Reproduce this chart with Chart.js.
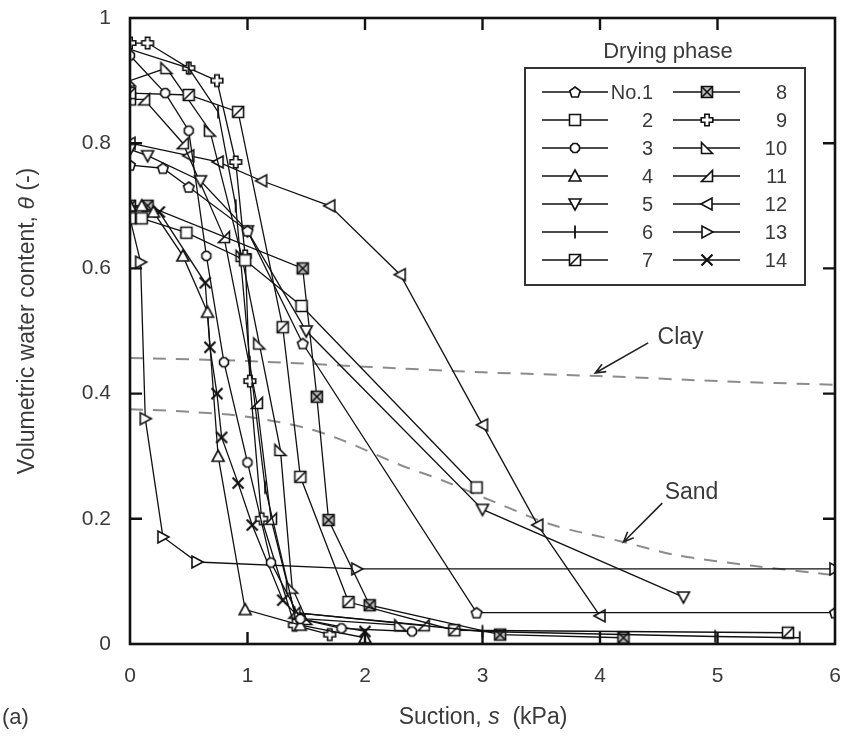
<!DOCTYPE html>
<html>
<head>
<meta charset="utf-8">
<script src="https://cdn.jsdelivr.net/npm/chart.js@4.4.0/dist/chart.umd.min.js"></script>
<style>
  html, body { margin: 0; padding: 0; background: #fff; }
  canvas { display: block; }
</style>
</head>
<body>
<canvas id="swcc" width="843" height="738"></canvas>
<script>
// Drying-phase soil water characteristic curves, [suction kPa, theta]
const no1  = [[0,0.765],[0.28,0.76],[0.5,0.73],[1.0,0.66],[1.47,0.48],[2.95,0.05],[6,0.05]];
const no2  = [[0,0.68],[0.1,0.68],[0.48,0.657],[0.98,0.613],[1.46,0.54],[2.95,0.25]];
const no3  = [[0,0.94],[0.3,0.88],[0.5,0.82],[0.65,0.62],[0.8,0.45],[1.0,0.29],[1.2,0.13],[1.45,0.04],[1.8,0.025],[2.4,0.02]];
const no4  = [[0,0.70],[0.1,0.70],[0.2,0.69],[0.45,0.62],[0.66,0.53],[0.75,0.30],[0.98,0.055],[1.45,0.03],[2.0,0.01]];
const no5  = [[0,0.79],[0.15,0.78],[0.6,0.74],[1.0,0.66],[1.5,0.50],[3.0,0.215],[4.71,0.075]];
const no6  = [[0,0.95],[0.5,0.92],[0.75,0.85],[0.9,0.70],[1.02,0.45],[1.15,0.25],[1.4,0.05],[3.0,0.02],[4.98,0.012],[5.7,0.01]];
const no7  = [[0,0.88],[0.5,0.877],[0.92,0.85],[1.3,0.506],[1.45,0.267],[1.86,0.067],[2.76,0.022],[5.6,0.018]];
const no8  = [[0,0.70],[0.15,0.70],[1.47,0.60],[1.59,0.395],[1.69,0.198],[2.04,0.062],[3.15,0.015],[4.2,0.01]];
const no9  = [[0,0.96],[0.15,0.96],[0.5,0.92],[0.74,0.90],[0.9,0.77],[0.98,0.62],[1.02,0.42],[1.12,0.2],[1.4,0.03],[1.7,0.015]];
const no10 = [[0,0.90],[0.31,0.92],[0.68,0.82],[0.95,0.62],[1.1,0.48],[1.28,0.31],[1.38,0.09],[1.5,0.04],[2.3,0.03]];
const no11 = [[0,0.87],[0.12,0.87],[0.45,0.80],[0.8,0.65],[1.08,0.385],[1.2,0.2],[1.4,0.05],[2.5,0.03]];
const no12 = [[0,0.80],[0.5,0.78],[0.75,0.77],[1.12,0.74],[1.70,0.70],[2.30,0.59],[3.0,0.35],[3.47,0.19],[4.0,0.045]];
const no13 = [[0,0.68],[0.09,0.61],[0.13,0.36],[0.28,0.171],[0.57,0.131],[1.93,0.12],[6,0.12]];
const no14 = [[0,0.70],[0.25,0.69],[0.64,0.577],[0.68,0.474],[0.74,0.40],[0.78,0.33],[0.92,0.257],[1.04,0.19],[1.3,0.07],[1.45,0.04],[2.0,0.02]];

// reference curves for clay and sand
const clay = [[0,0.457],[1,0.452],[2,0.443],[3,0.434],[4,0.428],[5,0.42],[6,0.414]];
const sand = [[0,0.375],[0.5,0.371],[1.0,0.363],[1.5,0.345],[1.8,0.326],[2.3,0.286],[2.65,0.262],[3.1,0.227],[3.6,0.19],[4.2,0.163],[4.65,0.142],[5.3,0.125],[5.85,0.113],[6,0.11]];

const seriesLabels = ['No.1','2','3','4','5','6','7','8','9','10','11','12','13','14'];
const seriesData = [no1,no2,no3,no4,no5,no6,no7,no8,no9,no10,no11,no12,no13,no14];
const markerKinds = ['pentagon','square','octagon','triUp','triDown','bar','slashSquare','xSquare','plus','rtriLeft','rtriRight','triLeft','triRight','cross'];

const xTicks = [0,1,2,3,4,5,6];
const yTicks = [0,0.2,0.4,0.6,0.8,1];

const FONT = "'Liberation Sans', Arial, sans-serif";
const INK = '#111';
const TEXT = '#3a3a3a';

// draws one marker shape centred on (cx, cy)
function drawShape(ctx, kind, cx, cy) {
  const r = 5.5;
  ctx.save();
  ctx.lineWidth = 1.6;
  ctx.strokeStyle = INK;
  ctx.fillStyle = '#fff';
  ctx.beginPath();
  const poly = pts => { ctx.moveTo(cx + pts[0][0], cy + pts[0][1]); pts.slice(1).forEach(p => ctx.lineTo(cx + p[0], cy + p[1])); ctx.closePath(); };
  switch (kind) {
    case 'pentagon': {
      const p = [];
      for (let k = 0; k < 5; k++) { const a = -Math.PI / 2 + k * 2 * Math.PI / 5; p.push([r * Math.cos(a), r * Math.sin(a) + 0.5]); }
      poly(p); ctx.fill(); ctx.stroke(); break;
    }
    case 'octagon': {
      const p = [];
      for (let k = 0; k < 8; k++) { const a = Math.PI / 8 + k * Math.PI / 4; p.push([4.8 * Math.cos(a), 4.8 * Math.sin(a)]); }
      poly(p); ctx.fill(); ctx.stroke(); break;
    }
    case 'square':
      ctx.rect(cx - r, cy - r, 2 * r, 2 * r); ctx.fill(); ctx.stroke(); break;
    case 'slashSquare':
      ctx.rect(cx - r, cy - r, 2 * r, 2 * r); ctx.fill(); ctx.stroke();
      ctx.beginPath(); ctx.moveTo(cx - r, cy + r); ctx.lineTo(cx + r, cy - r); ctx.stroke(); break;
    case 'xSquare':
      ctx.fillStyle = '#bbb';
      ctx.rect(cx - r, cy - r, 2 * r, 2 * r); ctx.fill(); ctx.stroke();
      ctx.beginPath(); ctx.moveTo(cx - r, cy - r); ctx.lineTo(cx + r, cy + r);
      ctx.moveTo(cx - r, cy + r); ctx.lineTo(cx + r, cy - r); ctx.stroke(); break;
    case 'triUp':
      poly([[0,-r-0.5],[r+0.5,r-0.5],[-r-0.5,r-0.5]]); ctx.fill(); ctx.stroke(); break;
    case 'triDown':
      poly([[0,r+0.5],[r+0.5,-r+0.5],[-r-0.5,-r+0.5]]); ctx.fill(); ctx.stroke(); break;
    case 'triLeft':
      poly([[-r-0.5,0],[r-0.5,-r-0.5],[r-0.5,r+0.5]]); ctx.fill(); ctx.stroke(); break;
    case 'triRight':
      poly([[r+0.5,0],[-r+0.5,-r-0.5],[-r+0.5,r+0.5]]); ctx.fill(); ctx.stroke(); break;
    case 'rtriLeft':
      poly([[-r,-r],[r,r],[-r,r]]); ctx.fill(); ctx.stroke(); break;
    case 'rtriRight':
      poly([[r,-r],[r,r],[-r,r]]); ctx.fill(); ctx.stroke(); break;
    case 'plus': {
      const a = 2.2, b = 5.8;
      poly([[-a,-b],[a,-b],[a,-a],[b,-a],[b,a],[a,a],[a,b],[-a,b],[-a,a],[-b,a],[-b,-a],[-a,-a]]);
      ctx.fill(); ctx.stroke(); break;
    }
    case 'bar':
      ctx.lineWidth = 1.8;
      ctx.moveTo(cx, cy - 6.5); ctx.lineTo(cx, cy + 6.5); ctx.stroke(); break;
    case 'cross':
      ctx.lineWidth = 2.2;
      ctx.moveTo(cx - 5.5, cy - 5.5); ctx.lineTo(cx + 5.5, cy + 5.5);
      ctx.moveTo(cx - 5.5, cy + 5.5); ctx.lineTo(cx + 5.5, cy - 5.5); ctx.stroke(); break;
  }
  ctx.restore();
}

function markerImage(kind) {
  const c = document.createElement('canvas');
  c.width = 18; c.height = 18;
  drawShape(c.getContext('2d'), kind, 9, 9);
  return c;
}

const toXY = arr => arr.map(p => ({ x: p[0], y: p[1] }));

const datasets = seriesData.map((d, i) => ({
  label: seriesLabels[i],
  data: toXY(d),
  borderColor: INK,
  borderWidth: 1.3,
  pointStyle: markerImage(markerKinds[i]),
  pointRadius: 6,
  order: 1
}));
[clay, sand].forEach((d, i) => datasets.push({
  label: i ? 'Sand' : 'Clay',
  data: toXY(d),
  borderColor: '#8c8c8c',
  borderWidth: 2,
  borderDash: [13, 10],
  pointRadius: 0,
  tension: 0.3,
  order: 5
}));

// box, inward ticks, legend, annotations and axis titles
const decorations = {
  id: 'decorations',
  afterDraw(chart) {
    const { ctx, chartArea: a, scales } = chart;
    const px = v => scales.x.getPixelForValue(v);
    const py = v => scales.y.getPixelForValue(v);
    ctx.save();

    ctx.strokeStyle = INK;
    ctx.lineWidth = 2.6;
    ctx.strokeRect(a.left, a.top, a.right - a.left, a.bottom - a.top);
    ctx.lineWidth = 2.4;
    ctx.beginPath();
    xTicks.slice(1, -1).forEach(v => {
      ctx.moveTo(px(v), a.bottom); ctx.lineTo(px(v), a.bottom - 12);
      ctx.moveTo(px(v), a.top); ctx.lineTo(px(v), a.top + 12);
    });
    yTicks.slice(1, -1).forEach(v => {
      ctx.moveTo(a.left, py(v)); ctx.lineTo(a.left + 12, py(v));
      ctx.moveTo(a.right, py(v)); ctx.lineTo(a.right - 12, py(v));
    });
    ctx.stroke();

    // legend
    ctx.fillStyle = '#fff';
    ctx.fillRect(525, 68, 280, 217);
    ctx.strokeStyle = '#333';
    ctx.lineWidth = 2;
    ctx.strokeRect(525, 68, 280, 217);
    ctx.fillStyle = TEXT;
    ctx.font = '22px ' + FONT;
    ctx.textAlign = 'center';
    ctx.textBaseline = 'middle';
    ctx.fillText('Drying phase', 668, 52);
    ctx.font = '20px ' + FONT;
    ctx.textAlign = 'right';
    seriesLabels.forEach((lab, i) => {
      const col = i < 7 ? 0 : 1;
      const y = 92 + (i % 7) * 28;
      const x0 = col ? 673 : 542, x1 = col ? 740 : 608, xm = col ? 707 : 575, xt = col ? 787 : 653;
      ctx.strokeStyle = INK;
      ctx.lineWidth = 1.4;
      ctx.beginPath(); ctx.moveTo(x0, y); ctx.lineTo(x1, y); ctx.stroke();
      drawShape(ctx, markerKinds[i], xm, y);
      ctx.fillStyle = TEXT;
      ctx.fillText(lab, xt, y + 1);
    });

    // Clay / Sand labels with arrows
    const arrow = (x0, y0, x1, y1) => {
      const X0 = px(x0), Y0 = py(y0), X1 = px(x1), Y1 = py(y1);
      const ang = Math.atan2(Y1 - Y0, X1 - X0);
      ctx.strokeStyle = '#222';
      ctx.lineWidth = 1.6;
      ctx.beginPath();
      ctx.moveTo(X0, Y0); ctx.lineTo(X1, Y1);
      ctx.moveTo(X1 - 11 * Math.cos(ang - 0.4), Y1 - 11 * Math.sin(ang - 0.4));
      ctx.lineTo(X1, Y1);
      ctx.lineTo(X1 - 11 * Math.cos(ang + 0.4), Y1 - 11 * Math.sin(ang + 0.4));
      ctx.stroke();
    };
    arrow(4.41, 0.481, 3.96, 0.433);
    arrow(4.53, 0.225, 4.2, 0.163);
    ctx.fillStyle = TEXT;
    ctx.font = '23px ' + FONT;
    ctx.textAlign = 'left';
    ctx.fillText('Clay', px(4.49), py(0.49));
    ctx.fillText('Sand', px(4.55), py(0.241));

    // axis titles with italic symbols
    const parts = (segs, cx, cy) => {
      const w = segs.map(s => { ctx.font = (s[1] ? 'italic ' : '') + '23px ' + FONT; return ctx.measureText(s[0]).width; });
      let x = cx - w.reduce((p, q) => p + q, 0) / 2;
      segs.forEach((s, k) => { ctx.font = (s[1] ? 'italic ' : '') + '23px ' + FONT; ctx.fillText(s[0], x, cy); x += w[k]; });
    };
    ctx.textAlign = 'left';
    parts([['Suction, ', false], ['s', true], ['  (kPa)', false]], 483, 718);
    ctx.save();
    ctx.translate(28, 321);
    ctx.rotate(-Math.PI / 2);
    parts([['Volumetric water content, ', false], ['\u03B8', true], [' (-)', false]], 0, 0);
    ctx.restore();
    ctx.font = '22px ' + FONT;
    ctx.fillText('(a)', 2, 718);

    ctx.restore();
  }
};

new Chart(document.getElementById('swcc'), {
  type: 'line',
  data: { datasets },
  options: {
    responsive: false,
    animation: false,
    devicePixelRatio: 1,
    layout: { padding: { top: 18, right: 8, left: 0, bottom: 0 } },
    plugins: { legend: { display: false }, tooltip: { enabled: false } },
    scales: {
      x: {
        type: 'linear', min: 0, max: 6,
        afterBuildTicks: s => { s.ticks = xTicks.map(v => ({ value: v })); },
        afterFit: s => { s.height = 94; s.paddingLeft = 0; s.paddingRight = 0; },
        ticks: { color: TEXT, font: { family: FONT, size: 21 }, padding: 20, maxRotation: 0 },
        grid: { display: false, drawTicks: false },
        border: { display: false }
      },
      y: {
        type: 'linear', min: 0, max: 1,
        afterBuildTicks: s => { s.ticks = yTicks.map(v => ({ value: v })); },
        afterFit: s => { s.width = 130; s.paddingTop = 0; s.paddingBottom = 0; },
        ticks: { color: TEXT, font: { family: FONT, size: 21 }, padding: 19, callback: v => String(+v.toFixed(1)) },
        grid: { display: false, drawTicks: false },
        border: { display: false }
      }
    }
  },
  plugins: [decorations]
});
</script>
</body>
</html>
